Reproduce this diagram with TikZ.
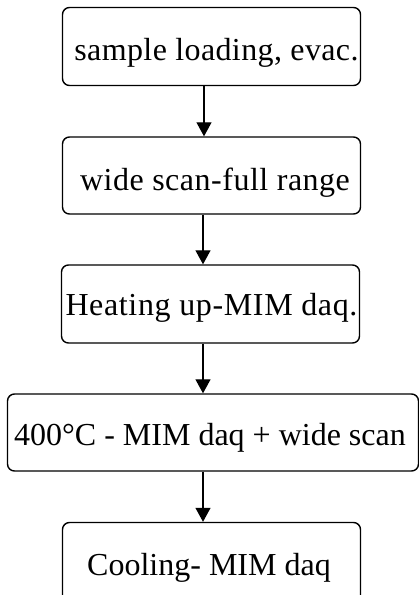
\documentclass[tikz,border=0pt]{standalone}
\usepackage{fontspec}
\setmainfont{Liberation Serif}
\usetikzlibrary{arrows.meta}
\tikzset{
  stepbox/.style={draw=black, line width=1.4pt, rounded corners=7pt, inner sep=0pt},
  lbl/.style={anchor=base, inner sep=0pt, font=\fontsize{32}{36}\selectfont},
  arr/.style={draw=black, line width=1.2pt, -{Triangle[length=14pt,width=15pt]}}
}
\begin{document}
\begin{tikzpicture}[x=1pt,y=1pt]
\clip (0,0) rectangle (419,-595);
\node[stepbox, minimum width=298pt, minimum height=78pt] (b1) at (211.5,-46.5) {};
\node[stepbox, minimum width=298pt, minimum height=77pt] (b2) at (211.5,-175.5) {};
\node[stepbox, minimum width=298pt, minimum height=78pt] (b3) at (210.5,-304) {};
\node[stepbox, minimum width=411pt, minimum height=77pt] (b4) at (213,-432.5) {};
\node[stepbox, minimum width=298pt, minimum height=80pt] (b5) at (211.5,-562.5) {};
\node[lbl] (t1) at (216.5,-60) {\addfontfeatures{LetterSpace=1.2}sample loading, evac.};
\node[lbl] (t2) at (215,-190) {\addfontfeatures{LetterSpace=1.6}wide scan-full range};
\node[lbl] (t3) at (211.5,-315.5) {\addfontfeatures{LetterSpace=2}Heating up-MIM daq.};
\node[lbl] (t4) at (210,-445) {400°C - MIM daq + wide scan};
\node[lbl] (t5) at (209,-575.5) {Cooling- MIM daq};
\draw[arr] ([xshift=-7.5pt]b1.south) -- ([xshift=-7.5pt]b2.north);
\draw[arr] ([xshift=-8.5pt]b2.south) -- ([xshift=-7.5pt]b3.north);
\draw[arr] ([xshift=-7.5pt]b3.south) -- ([xshift=-10pt]b4.north);
\draw[arr] ([xshift=-10pt]b4.south) -- ([xshift=-8.5pt]b5.north);
\end{tikzpicture}
\end{document}
